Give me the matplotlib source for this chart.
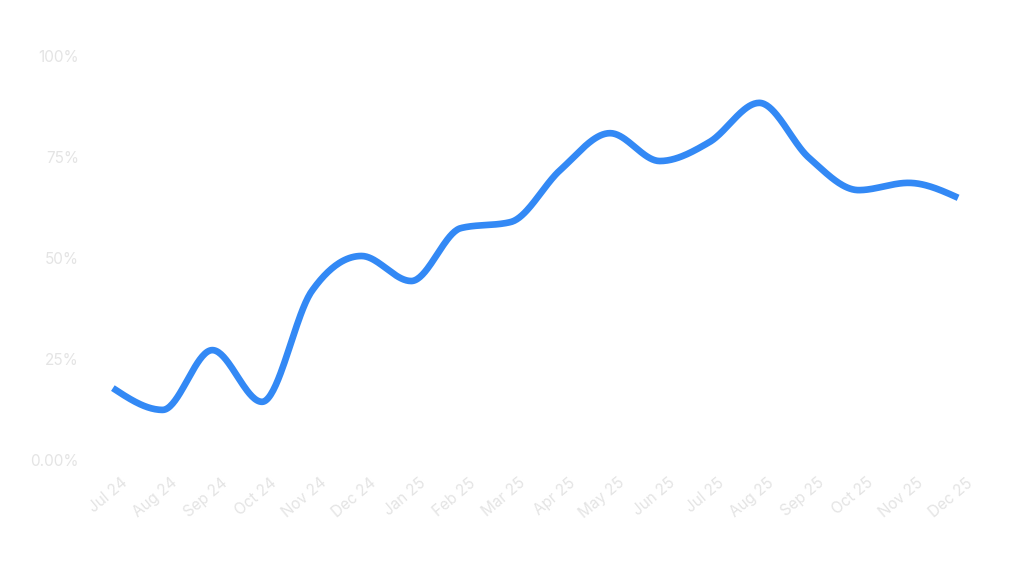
import numpy as np
import matplotlib.pyplot as plt
import matplotlib.transforms as mtransforms

months = ['Jul 24', 'Aug 24', 'Sep 24', 'Oct 24', 'Nov 24', 'Dec 24', 'Jan 25', 'Feb 25', 'Mar 25',
          'Apr 25', 'May 25', 'Jun 25', 'Jul 25', 'Aug 25', 'Sep 25', 'Oct 25', 'Nov 25', 'Dec 25']
values = [17.8, 12.4, 27.2, 14.4, 41.8, 50.5, 44.3, 57.4, 58.9,
          71.8, 80.9, 74.0, 78.7, 88.4, 74.8, 66.8, 68.6, 64.9]
y_ticks = [0, 25, 50, 75, 100]
y_tick_labels = ['0.00%', '25%', '50%', '75%', '100%']


# monotone-x cubic interpolation (like d3.curveMonotoneX)
def monotone_x(x, y, n=40):
    x = np.asarray(x, float)
    y = np.asarray(y, float)
    h = np.diff(x)
    s = np.diff(y) / h
    t = np.zeros_like(y)
    for i in range(1, len(x) - 1):
        p = (s[i - 1] * h[i] + s[i] * h[i - 1]) / (h[i - 1] + h[i])
        t[i] = (np.sign(s[i - 1]) + np.sign(s[i])) * min(abs(s[i - 1]), abs(s[i]), 0.5 * abs(p))
    t[0] = (3 * s[0] - t[1]) / 2
    t[-1] = (3 * s[-1] - t[-2]) / 2
    xs, ys = [], []
    for i in range(len(x) - 1):
        u = np.linspace(0, 1, n, endpoint=False)
        h00 = 2 * u**3 - 3 * u**2 + 1
        h10 = u**3 - 2 * u**2 + u
        h01 = -2 * u**3 + 3 * u**2
        h11 = u**3 - u**2
        xs.append(x[i] + u * h[i])
        ys.append(h00 * y[i] + h10 * h[i] * t[i] + h01 * y[i + 1] + h11 * h[i] * t[i + 1])
    xs.append([x[-1]])
    ys.append([y[-1]])
    return np.concatenate(xs), np.concatenate(ys)


plt.rcParams['font.family'] = ['Inter', 'DejaVu Sans']

fig = plt.figure(figsize=(10.24, 5.76), dpi=100)
ax = fig.add_axes([90 / 1024, (576 - 460) / 576, (980 - 90) / 1024, 404 / 576])

x = np.arange(len(months))
xs, ys = monotone_x(x, values)
ax.plot(xs, ys, color='#3389f5', linewidth=4.8, solid_capstyle='butt', clip_on=False)

ax.set_xlim(-0.46, len(months) - 1 + 0.44)
ax.set_ylim(0, 100)

ax.set_yticks(y_ticks)
ax.set_yticklabels(y_tick_labels)
ax.set_xticks(x)
ax.set_xticklabels(months, rotation=40, ha='right', rotation_mode='anchor')

ax.tick_params(axis='both', length=0, colors='#e4e4e4', labelsize=11)
ax.tick_params(axis='y', pad=8)
ax.tick_params(axis='x', pad=11)
shift = mtransforms.ScaledTranslation(8 / 100, 0, fig.dpi_scale_trans)
for lbl in ax.get_xticklabels():
    lbl.set_transform(lbl.get_transform() + shift)

for sp in ax.spines.values():
    sp.set_visible(False)
ax.grid(False)

fig.savefig('out.png', dpi=100)
